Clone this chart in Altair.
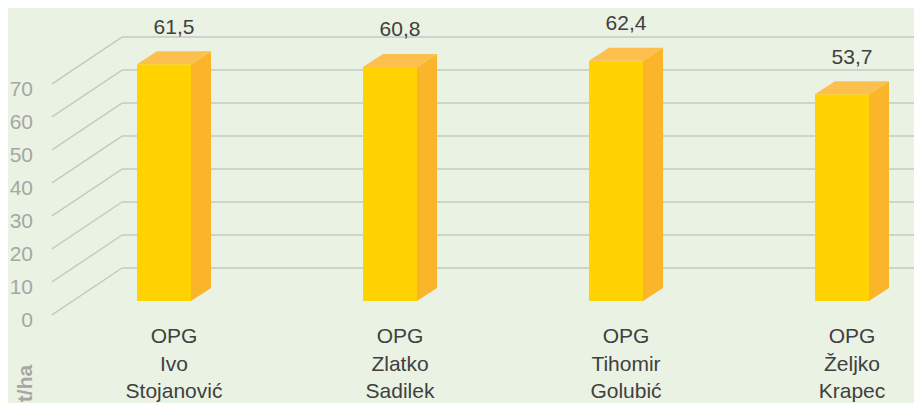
import altair as alt
import pandas as pd

# ---------------- data ----------------
categories = ["OPG\nIvo\nStojanović", "OPG\nZlatko\nSadilek", "OPG\nTihomir\nGolubić", "OPG\nŽeljko\nKrapec"]
values = [61.5, 60.8, 62.4, 53.7]
value_labels = ["61,5", "60,8", "62,4", "53,7"]
ticks = [0, 10, 20, 30, 40, 50, 60, 70]
axis_title = "t/ha"

# ---------------- layout constants ----------------
W, H = 906, 395
XMIN, XMAX = -0.6903, 3.3186          # category slot units
HALF = 0.1195                         # half width of the front face
DX = 0.0885                           # depth offset (x) of the 3D bars
BAR_DOMAIN = [-26.49, 76.10]          # value scale of the bars
DY_BAR = 3.38                         # depth offset (y) of the 3D bars, in value units
GRID_DOMAIN = [-40.91, 78.79]         # value scale of the perspective grid
GRID_BACK_X = -0.1858
GRID_FRONT_X = -0.4956
GRID_DROP = 14.24
TICK_X = -0.5796

FONT = "Liberation Sans"
BG = "#EAF2E3"
FRONT = "#FFD200"
SIDE = "#FBB52B"
TOP = "#FDBF4E"
GRIDC = "#C6C9C4"
TEXTC = "#404040"
TICKC = "#A4A7A4"

xs = alt.Scale(domain=[XMIN, XMAX], nice=False, zero=False)
ysB = alt.Scale(domain=BAR_DOMAIN, nice=False, zero=False)
ysG = alt.Scale(domain=GRID_DOMAIN, nice=False, zero=False)

# ---------------- tables ----------------
bars = pd.DataFrame({"i": range(len(values)), "v": values, "name": categories, "label": value_labels})
bars["left"] = bars["i"] - HALF
bars["right"] = bars["i"] + HALF
bars["mid"] = bars["i"] + DX / 2
bars["zero"] = 0.0

side_rows, top_rows = [], []
for i, v in enumerate(values):
    side_rows.append({"i": i, "x": i + HALF, "y": 0.0, "y2": v})
    side_rows.append({"i": i, "x": i + HALF + DX, "y": DY_BAR, "y2": v + DY_BAR})
    top_rows.append({"i": i, "y": v, "x": i - HALF, "x2": i + HALF})
    top_rows.append({"i": i, "y": v + DY_BAR, "x": i - HALF + DX, "x2": i + HALF + DX})
side = pd.DataFrame(side_rows)
top = pd.DataFrame(top_rows)

grid = pd.DataFrame({"t": ticks})
grid["front"] = grid["t"] - GRID_DROP
grid["bx"] = GRID_BACK_X
grid["fx"] = GRID_FRONT_X
grid["ex"] = XMAX
grid["lx"] = TICK_X
grid["txt"] = grid["t"].astype(str)

title_df = pd.DataFrame({"x": [-0.611], "y": [-35.0], "txt": [axis_title]})

# ---------------- grid layers ----------------
back_lines = alt.Chart(grid).mark_rule(color=GRIDC, strokeWidth=1.5).encode(
    x=alt.X("bx:Q", scale=xs, axis=None), x2="ex:Q",
    y=alt.Y("t:Q", scale=ysG, axis=None), y2="t:Q")
diag_lines = alt.Chart(grid).mark_rule(color=GRIDC, strokeWidth=1.5).encode(
    x=alt.X("fx:Q", scale=xs, axis=None), x2="bx:Q",
    y=alt.Y("front:Q", scale=ysG, axis=None), y2="t:Q")
tick_text = alt.Chart(grid).mark_text(font=FONT, fontSize=21, color=TICKC, align="right",
                                      baseline="middle", dy=6).encode(
    x=alt.X("lx:Q", scale=xs, axis=None),
    y=alt.Y("front:Q", scale=ysG, axis=None), text="txt:N")
title_text = alt.Chart(title_df).mark_text(font=FONT, fontSize=21, fontWeight="bold", color=TICKC,
                                           angle=270, align="center", baseline="middle").encode(
    x=alt.X("x:Q", scale=xs, axis=None),
    y=alt.Y("y:Q", scale=ysG, axis=None), text="txt:N")

# ---------------- bar layers ----------------
front = alt.Chart(bars).mark_rect(color=FRONT).encode(
    x=alt.X("left:Q", scale=xs, axis=None), x2="right:Q",
    y=alt.Y("zero:Q", scale=ysB, axis=None), y2="v:Q")
side_face = alt.Chart(side).mark_area(color=SIDE, orient="vertical").encode(
    x=alt.X("x:Q", scale=xs, axis=None),
    y=alt.Y("y:Q", scale=ysB, axis=None), y2="y2:Q", detail="i:N")
top_face = alt.Chart(top).mark_area(color=TOP, orient="horizontal").encode(
    y=alt.Y("y:Q", scale=ysB, axis=None),
    x=alt.X("x:Q", scale=xs, axis=None), x2="x2:Q", detail="i:N")
val_text = alt.Chart(bars).transform_calculate(
    ly="min(datum.v + 9.5, 72.5)").mark_text(
    font=FONT, fontSize=21, color=TEXTC, align="center", baseline="middle").encode(
    x=alt.X("mid:Q", scale=xs, axis=None),
    y=alt.Y("ly:Q", scale=ysB, axis=None), text="label:N")
cat_text = alt.Chart(bars).mark_text(
    font=FONT, fontSize=21, color=TEXTC, align="center", baseline="top",
    lineBreak="\n", lineHeight=27.5, dy=25).encode(
    x=alt.X("mid:Q", scale=xs, axis=None),
    y=alt.Y("zero:Q", scale=ysB, axis=None), text="name:N")

chart = alt.layer(
    back_lines, diag_lines, tick_text, title_text,
    front, side_face, top_face, val_text, cat_text
).resolve_scale(y="independent").properties(
    width=W, height=H, padding=0, autosize=alt.AutoSizeParams(type="none"),
    background=BG
).configure_view(stroke=None)

chart.save("out.html", embed_options={"renderer": "svg", "actions": False})
